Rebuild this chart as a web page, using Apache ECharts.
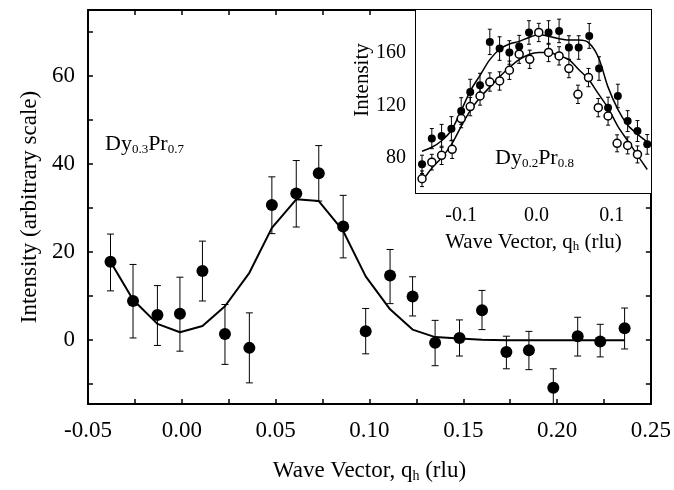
<!DOCTYPE html>
<html><head><meta charset="utf-8">
<script src="https://cdn.jsdelivr.net/npm/echarts@6/dist/echarts.min.js"></script>
<style>html,body{margin:0;padding:0;background:#fff}#c{width:674px;height:490px}</style>
</head><body><div id="c"></div>
<script>
// ---------- main panel (Dy0.3Pr0.7) ----------
const mainQ  = [-0.038,-0.026,-0.013,-0.001,0.011,0.023,0.036,0.048,0.061,0.073,0.086,0.098,0.111,0.123,0.135,0.148,0.160,0.173,0.185,0.198,0.211,0.223,0.236];
const mainI  = [17.8,8.9,5.7,6.0,15.7,1.4,-1.75,30.7,33.3,37.9,25.8,2.0,14.7,9.9,-0.6,0.5,6.8,-2.7,-2.3,-10.8,0.9,-0.3,2.7];
const mainLo = [11.2,0.5,-1.2,-2.5,8.9,-5.5,-9.7,24.2,25.7,31.6,18.7,-3.1,8.3,5.5,-5.8,-3.6,2.4,-6.5,-6.7,-15.5,-3.6,-3.8,-2.0];
const mainHi = [24.1,17.2,12.4,14.3,22.5,8.1,6.2,37.1,40.8,44.2,32.9,7.2,20.6,14.4,4.5,4.6,11.3,0.9,2.0,-6.5,5.2,3.6,7.3];
const mainFit = [17.8,9.2,3.7,1.8,3.2,7.7,15.3,25.5,32.0,31.6,24.8,14.5,7.0,2.4,0.7,0.4,0.1,0,0,0,0,0,0];
const mainXTicks  = [-0.025,0,0.025,0.05,0.075,0.1,0.125,0.15,0.175,0.2,0.225];
const mainXLabels = [-0.05,0,0.05,0.1,0.15,0.2,0.25];
const mainYTicks  = [-10,0,10,20,30,40,50,60,70];
const mainYLabels = [0,20,40,60];
const mainTopTicks = [-0.025,0,0.025,0.05,0.075,0.1];
const mainRightTicks = [-10,0,10,20,30];

// ---------- inset (Dy0.2Pr0.8) ----------
const filledQ  = [-0.152,-0.139,-0.126,-0.113,-0.100,-0.088,-0.075,-0.062,-0.049,-0.036,-0.023,-0.010,0.016,0.030,0.043,0.056,0.070,0.083,0.095,0.108,0.121,0.134,0.147];
const filledI  = [74.9,94.6,96.6,102.2,115.7,130.3,135.4,168.6,163.5,160.5,165.1,175.8,175.8,177.0,164.3,164.3,173.2,148.2,118.3,127.2,108.0,100.4,90.2];
const filledErr= [7,7.7,8.9,9.2,10.2,9.7,9.2,9.7,9,9,8.5,9,9,9,9,9,9.5,9,8,9,8,8,7.5];
const openQ    = [-0.152,-0.139,-0.126,-0.112,-0.100,-0.088,-0.075,-0.062,-0.049,-0.036,-0.023,-0.009,0.003,0.016,0.030,0.043,0.055,0.069,0.082,0.095,0.107,0.121,0.134];
const openI    = [63.9,76.6,81.8,86.4,109.9,119.1,127.2,137.9,138.7,146.9,159.2,155.3,175.8,160.5,157.9,148.2,128.5,141.3,118.3,111.9,91.0,89.4,82.5];
const openErr  = [6,6,7,7,7,7,7,7,7,7,7,7,7,7,7,7,7,7,7,7,6.5,6.5,6.5];
const fitQ     = [-0.152,-0.139,-0.126,-0.113,-0.100,-0.088,-0.075,-0.062,-0.049,-0.036,-0.023,-0.010,0.003,0.016,0.030,0.043,0.056,0.069,0.082,0.095,0.108,0.121,0.134,0.147];
const fitFilled= [85,88,93,101,116,131,143,155,163,167,169,172,174,173,171,170,170,168,157,134,117,105,98,92];
const fitOpen  = [62,72,80,90,104,116,126,134,142,149,155,159,160.5,160.5,158,155,147.5,140,129,118,104,93,82,71];
const insetXTicks  = [-0.15,-0.1,-0.05,0,0.05,0.1,0.15];
const insetXLabels = [-0.1,0,0.1];
const insetYTicks  = [60,80,100,120,140,160,180];
const insetYLabels = [80,120,160];

const FF = "'Liberation Serif','Times New Roman',serif";
const zip = (a,b)=>a.map((v,i)=>[v,b[i]]);

function errRender(capW, lw){
  return function(params, api){
    const x = api.value(0), lo = api.value(1), hi = api.value(2);
    const p1 = api.coord([x, lo]), p2 = api.coord([x, hi]);
    const st = {stroke:'#000', lineWidth:lw};
    return {type:'group', children:[
      {type:'line', shape:{x1:p1[0],y1:p1[1],x2:p2[0],y2:p2[1]}, style:st},
      {type:'line', shape:{x1:p1[0]-capW,y1:p1[1],x2:p1[0]+capW,y2:p1[1]}, style:st},
      {type:'line', shape:{x1:p2[0]-capW,y1:p2[1],x2:p2[0]+capW,y2:p2[1]}, style:st}
    ]};
  };
}

function axisBase(extra){
  return Object.assign({
    type:'value', splitLine:{show:false},
    axisLine:{show:true, onZero:false, lineStyle:{color:'#000', width:2}},
    axisTick:{show:true, inside:true, length:5, lineStyle:{color:'#000', width:1.5}},
    axisLabel:{show:false}
  }, extra);
}

const chart = echarts.init(document.getElementById('c'), null, {renderer:'canvas'});
chart.setOption({
  animation:false,
  backgroundColor:'#fff',
  grid:[
    {left:88, right:23, top:10, bottom:86},
    {left:416, right:23, top:10, bottom:297, show:true, backgroundColor:'#fff', borderWidth:0, z:3}
  ],
  xAxis:[
    axisBase({gridIndex:0, position:'bottom', min:-0.05, max:0.25,
      axisTick:{show:true, inside:true, length:5, customValues:mainXTicks, lineStyle:{color:'#000', width:1.5}},
      axisLabel:{show:true, customValues:mainXLabels, margin:15, color:'#000', fontFamily:FF, fontSize:23,
        formatter:v=>v.toFixed(2)},
      name:'{n|Wave Vector, q}{s|h}{n| (rlu)}', nameLocation:'middle', nameGap:55,
      nameTextStyle:{color:'#000', fontFamily:FF, rich:{
        n:{fontFamily:FF, fontSize:23, color:'#000', lineHeight:24},
        s:{fontFamily:FF, fontSize:14, color:'#000', lineHeight:8, verticalAlign:'bottom'}}}
    }),
    axisBase({gridIndex:0, position:'top', min:-0.05, max:0.25,
      axisTick:{show:true, inside:true, length:5, customValues:mainTopTicks, lineStyle:{color:'#000', width:1.5}}}),
    axisBase({gridIndex:1, position:'bottom', min:-0.16, max:0.152,
      axisTick:{show:true, inside:true, length:4, customValues:insetXTicks, lineStyle:{color:'#000', width:1.5}},
      axisLabel:{show:true, customValues:insetXLabels, margin:13, color:'#000', fontFamily:FF, fontSize:20,
        formatter:v=>v.toFixed(1)},
      name:'{n|Wave Vector, q}{s|h}{n| (rlu)}', nameLocation:'middle', nameGap:38,
      nameTextStyle:{color:'#000', fontFamily:FF, rich:{
        n:{fontFamily:FF, fontSize:21, color:'#000', lineHeight:22},
        s:{fontFamily:FF, fontSize:13, color:'#000', lineHeight:8, verticalAlign:'bottom'}}}
    }),
    axisBase({gridIndex:1, position:'top', min:-0.16, max:0.152,
      axisTick:{show:true, inside:true, length:4, customValues:insetXTicks, lineStyle:{color:'#000', width:1.5}}})
  ],
  yAxis:[
    axisBase({gridIndex:0, position:'left', min:-14.5, max:75,
      axisTick:{show:true, inside:true, length:5, customValues:mainYTicks, lineStyle:{color:'#000', width:1.5}},
      axisLabel:{show:true, customValues:mainYLabels, margin:13, color:'#000', fontFamily:FF, fontSize:23},
      name:'Intensity (arbitrary scale)', nameLocation:'middle', nameGap:44,
      nameTextStyle:{color:'#000', fontFamily:FF, fontSize:23}
    }),
    axisBase({gridIndex:0, position:'right', min:-14.5, max:75,
      axisTick:{show:true, inside:true, length:5, customValues:mainRightTicks, lineStyle:{color:'#000', width:1.5}}}),
    axisBase({gridIndex:1, position:'left', min:53, max:193,
      axisTick:{show:true, inside:true, length:4, customValues:insetYTicks, lineStyle:{color:'#000', width:1.5}},
      axisLabel:{show:true, customValues:insetYLabels, margin:10, color:'#000', fontFamily:FF, fontSize:20}
    }),
    axisBase({gridIndex:1, position:'right', min:53, max:193,
      axisTick:{show:true, inside:true, length:4, customValues:insetYTicks, lineStyle:{color:'#000', width:1.5}}})
  ],
  series:[
    {type:'custom', xAxisIndex:0, yAxisIndex:0, clip:true, renderItem:errRender(3.5,1),
      data:mainQ.map((q,i)=>[q, mainLo[i], mainHi[i]]), z:2},
    {type:'line', xAxisIndex:0, yAxisIndex:0, data:zip(mainQ, mainFit), showSymbol:false, symbol:'none',
      lineStyle:{color:'#000', width:2}, z:3},
    {type:'scatter', xAxisIndex:0, yAxisIndex:0, data:zip(mainQ, mainI), symbol:'circle', symbolSize:12,
      itemStyle:{color:'#000', opacity:1}, z:4},

    {type:'custom', xAxisIndex:2, yAxisIndex:2, clip:true, renderItem:errRender(2,1),
      data:filledQ.map((q,i)=>[q, filledI[i]-filledErr[i], filledI[i]+filledErr[i]]), z:5},
    {type:'custom', xAxisIndex:2, yAxisIndex:2, clip:true, renderItem:errRender(2,1),
      data:openQ.map((q,i)=>[q, openI[i]-openErr[i], openI[i]+openErr[i]]), z:5},
    {type:'line', xAxisIndex:2, yAxisIndex:2, data:zip(fitQ, fitFilled), showSymbol:false, symbol:'none', smooth:0.3,
      lineStyle:{color:'#000', width:1.5}, z:6},
    {type:'line', xAxisIndex:2, yAxisIndex:2, data:zip(fitQ, fitOpen), showSymbol:false, symbol:'none', smooth:0.3,
      lineStyle:{color:'#000', width:1.5}, z:6},
    {type:'scatter', xAxisIndex:2, yAxisIndex:2, data:zip(filledQ, filledI), symbol:'circle', symbolSize:8,
      itemStyle:{color:'#000', opacity:1}, z:7},
    {type:'scatter', xAxisIndex:2, yAxisIndex:2, data:zip(openQ, openI), symbol:'circle', symbolSize:8,
      itemStyle:{color:'#fff', borderColor:'#000', borderWidth:1.5, opacity:1}, z:8}
  ],
  graphic:[
    {type:'text', left:105, top:133, z:20, style:{
      text:'{n|Dy}{s|0.3}{n|Pr}{s|0.7}', fill:'#000', font:'22px '+FF,
      rich:{n:{fontFamily:FF, fontSize:22, fill:'#000', lineHeight:24},
            s:{fontFamily:FF, fontSize:13, fill:'#000', lineHeight:8, verticalAlign:'bottom'}}}},
    {type:'text', left:495, top:147, z:20, style:{
      text:'{n|Dy}{s|0.2}{n|Pr}{s|0.8}', fill:'#000', font:'22px '+FF,
      rich:{n:{fontFamily:FF, fontSize:22, fill:'#000', lineHeight:24},
            s:{fontFamily:FF, fontSize:13, fill:'#000', lineHeight:8, verticalAlign:'bottom'}}}},
    {type:'text', x:362, y:80, rotation:Math.PI/2, z:20, style:{
      text:'Intensity', fill:'#000', font:'21px '+FF, align:'center', verticalAlign:'middle'}}
  ]
});
</script>
</body></html>
